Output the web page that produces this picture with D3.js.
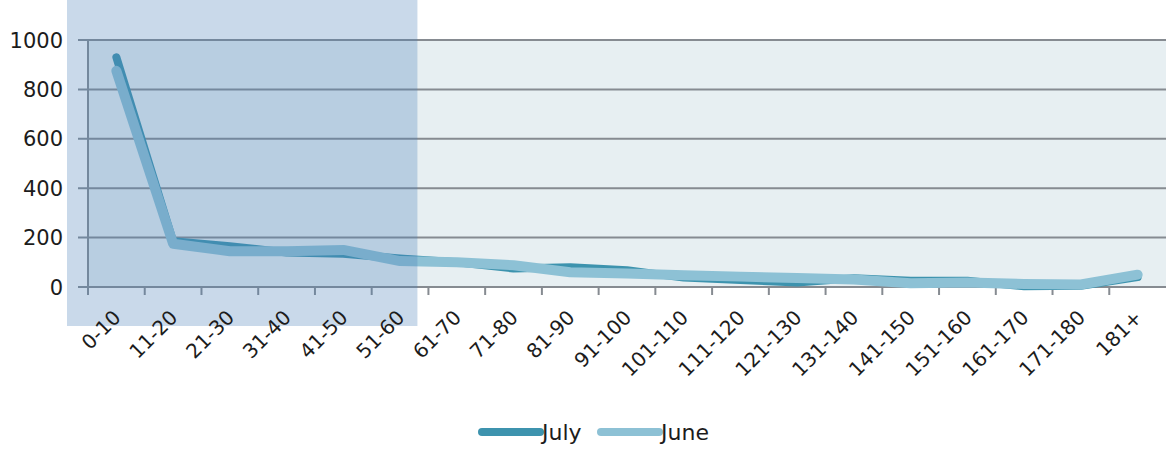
<!DOCTYPE html>
<html>
<head>
<meta charset="utf-8">
<script src="https://cdn.jsdelivr.net/npm/d3@7"></script>
<style>
  body { margin: 0; background: #fff; }
  svg { display: block; }
  text { font-family: "DejaVu Sans", sans-serif; fill: #1c1c1c; }
</style>
</head>
<body>
<svg id="chart" width="1166" height="451"></svg>
<script>
// Age buckets (days) and counts for the two months
const categories = ["0-10","11-20","21-30","31-40","41-50","51-60","61-70","71-80","81-90","91-100",
  "101-110","111-120","121-130","131-140","141-150","151-160","161-170","171-180","181+"];
const july = [930,185,165,140,135,115,100,75,80,68,38,28,18,35,25,25,3,5,40];
const june = [875,175,145,145,150,105,100,88,60,55,48,42,36,30,15,18,12,10,50];
const yTicks = [0,200,400,600,800,1000];
const seriesNames = ["July","June"];
const seriesColors = ["#3d93ae","#8dc1d5"];
const highlightRange = ["0-10","51-60"];

const svg = d3.select("#chart");
const plot = {left: 88, right: 1166, top: 40, bottom: 287};

const x = d3.scaleBand().domain(categories).range([plot.left, plot.right]);
const y = d3.scaleLinear().domain([0, 1000]).range([plot.bottom, plot.top]);
const cx = c => x(c) + x.bandwidth() / 2;

// plot background
svg.append("rect")
  .attr("x", plot.left).attr("y", plot.top)
  .attr("width", plot.right - plot.left).attr("height", plot.bottom - plot.top)
  .attr("fill", "#e7eff2");

// horizontal gridlines (with left tick stubs)
svg.append("g").selectAll("line").data(yTicks).join("line")
  .attr("x1", plot.left - 10).attr("x2", plot.right)
  .attr("y1", d => y(d)).attr("y2", d => y(d))
  .attr("stroke", "#868b91").attr("stroke-width", 2);

// vertical axis
svg.append("line")
  .attr("x1", plot.left).attr("x2", plot.left)
  .attr("y1", plot.top).attr("y2", plot.bottom + 8)
  .attr("stroke", "#868b91").attr("stroke-width", 2);

// category boundary ticks
svg.append("g").selectAll("line").data(categories).join("line")
  .attr("x1", d => x(d)).attr("x2", d => x(d))
  .attr("y1", plot.bottom).attr("y2", plot.bottom + 8)
  .attr("stroke", "#868b91").attr("stroke-width", 2);

// series lines: July underneath, June on top
const line = d3.line().x((d, i) => cx(categories[i])).y(d => y(d));
[july, june].forEach((vals, i) => {
  svg.append("path")
    .datum(vals)
    .attr("d", line)
    .attr("fill", "none")
    .attr("stroke", seriesColors[i])
    .attr("stroke-width", i === 0 ? 8 : 10)
    .attr("stroke-linecap", "round")
    .attr("stroke-linejoin", "round");
});

// translucent highlight over the first six buckets
const hx0 = x(highlightRange[0]) - 21;
const hx1 = x(highlightRange[1]) + x.bandwidth() - 11;
svg.append("rect")
  .attr("x", hx0).attr("y", 0)
  .attr("width", hx1 - hx0).attr("height", 326)
  .attr("fill", "rgb(75,128,185)").attr("fill-opacity", 0.3);

// y labels
svg.append("g").selectAll("text").data(yTicks).join("text")
  .attr("x", 63).attr("y", d => y(d))
  .attr("dy", "0.36em")
  .attr("text-anchor", "end")
  .attr("font-size", 21)
  .text(d => d);

// x labels, rotated
svg.append("g").selectAll("text").data(categories).join("text")
  .attr("transform", d => `translate(${cx(d) - 7},${plot.bottom + 19}) rotate(-45)`)
  .attr("text-anchor", "end")
  .attr("dy", "0.9em")
  .attr("font-size", 20)
  .text(d => d);

// legend
const legend = svg.append("g");
const legendX = [482, 601];
seriesNames.forEach((name, i) => {
  legend.append("line")
    .attr("x1", legendX[i]).attr("x2", legendX[i] + 58)
    .attr("y1", 432).attr("y2", 432)
    .attr("stroke", seriesColors[i]).attr("stroke-width", 8)
    .attr("stroke-linecap", "round");
  legend.append("text")
    .attr("x", legendX[i] + 60).attr("y", 440)
    .attr("font-size", 22)
    .text(name);
});
</script>
</body>
</html>
